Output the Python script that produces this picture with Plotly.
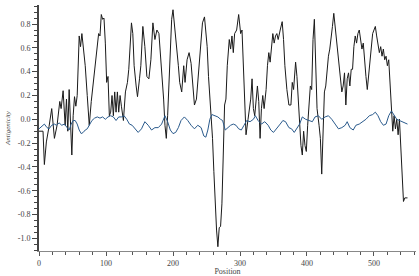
import plotly.graph_objects as go

# Antigenicity profile (black)
ant_pos = [0, 6, 8, 11, 15, 19, 23, 27, 31, 33, 36, 39, 41, 43, 45, 47, 49, 51, 53, 55, 57, 60, 62, 64, 66, 69, 72, 75, 78, 81, 84, 87, 89, 91, 93, 95, 97, 99, 101, 103, 105, 107, 109, 111, 113, 115, 117, 119, 121, 123, 126, 129, 132, 134, 136, 138, 140, 142, 145, 147, 150, 152, 155, 158, 161, 164, 167, 170, 173, 176, 179, 182, 184, 186, 188, 190, 192, 194, 196, 198, 200, 202, 204, 206, 208, 210, 213, 216, 218, 221, 224, 227, 229, 232, 235, 238, 241, 244, 247, 249, 251, 253, 256, 259, 261, 263, 265, 267, 269, 271, 273, 275, 277, 279, 281, 284, 286, 288, 290, 292, 295, 298, 301, 303, 305, 307, 309, 312, 314, 316, 318, 320, 322, 324, 326, 328, 330, 332, 334, 336, 339, 341, 343, 345, 347, 349, 351, 353, 355, 357, 360, 363, 365, 367, 370, 373, 376, 378, 380, 383, 385, 387, 389, 391, 393, 395, 397, 399, 401, 403, 405, 407, 409, 411, 413, 415, 418, 420, 422, 424, 426, 428, 430, 432, 434, 436, 438, 440, 442, 444, 446, 448, 450, 452, 454, 456, 458, 460, 462, 464, 466, 468, 470, 472, 474, 476, 478, 480, 482, 484, 486, 488, 490, 492, 494, 496, 498, 500, 502, 504, 506, 508, 510, 512, 514, 516, 518, 520, 522, 524, 526, 528, 530, 532, 534, 536, 538, 540, 542, 544, 546, 550]
ant_val = [-0.10, -0.10, -0.38, -0.19, -0.06, 0.09, -0.16, -0.05, 0.15, 0.09, 0.24, -0.05, 0.17, -0.10, 0.25, -0.05, -0.30, 0.03, 0.19, 0.11, 0.20, 0.70, 0.61, 0.72, 0.61, 0.45, 0.20, -0.05, 0.15, 0.31, 0.50, 0.67, 0.72, 0.70, 0.88, 0.84, 0.85, 0.64, 0.31, 0.36, 0.03, 0.06, 0.20, 0.03, 0.23, 0.06, 0.23, 0.06, 0.20, 0.11, -0.01, 0.23, 0.31, 0.42, 0.59, 0.81, 0.72, 0.45, 0.28, 0.19, 0.34, 0.45, 0.78, 0.61, 0.36, 0.34, 0.50, 0.81, 0.67, 0.75, 0.72, 0.50, 0.39, 0.17, -0.05, -0.16, 0.03, 0.36, 0.67, 0.84, 0.92, 0.81, 0.72, 0.56, 0.45, 0.31, 0.23, 0.45, 0.31, 0.50, 0.56, 0.47, 0.34, 0.12, 0.17, 0.36, 0.61, 0.81, 0.86, 0.75, 0.61, 0.36, 0.12, -0.16, -0.44, -0.71, -0.93, -1.07, -0.91, -0.90, -0.71, -0.30, 0.12, 0.17, 0.45, 0.67, 0.59, 0.70, 0.56, 0.72, 0.75, 0.88, 0.72, 0.75, 0.45, 0.17, -0.13, 0.00, 0.09, 0.17, 0.34, 0.09, 0.03, 0.17, 0.28, 0.15, -0.16, 0.09, 0.20, 0.09, 0.25, 0.45, 0.56, 0.48, 0.64, 0.72, 0.64, 0.70, 0.72, 0.67, 0.75, 0.82, 0.67, 0.45, 0.25, 0.12, 0.12, 0.31, 0.25, 0.48, 0.36, 0.17, -0.05, -0.22, -0.30, -0.10, -0.22, -0.27, -0.05, 0.15, 0.28, 0.25, 0.67, 0.84, 0.45, 0.09, -0.05, -0.16, -0.46, -0.10, 0.23, 0.28, 0.45, 0.53, 0.59, 0.67, 0.78, 0.89, 0.78, 0.67, 0.50, 0.39, 0.31, 0.23, 0.28, 0.39, 0.12, 0.34, 0.39, 0.28, 0.42, 0.42, 0.61, 0.70, 0.64, 0.72, 0.75, 0.64, 0.59, 0.64, 0.45, 0.36, 0.25, 0.36, 0.45, 0.59, 0.72, 0.75, 0.78, 0.70, 0.61, 0.56, 0.61, 0.53, 0.59, 0.50, 0.53, 0.45, 0.50, 0.31, 0.15, -0.10, 0.03, -0.08, 0.00, -0.13, 0.00, -0.22, -0.46, -0.69, -0.66, -0.66]

# Smoothed average (blue)
avg_pos = [0, 5, 8, 12, 15, 19, 23, 26, 30, 34, 38, 42, 45, 48, 51, 54, 57, 60, 63, 66, 69, 72, 75, 79, 83, 87, 91, 95, 99, 103, 107, 111, 115, 119, 123, 127, 131, 135, 139, 143, 148, 153, 158, 163, 168, 173, 178, 183, 188, 192, 196, 200, 204, 208, 212, 217, 222, 227, 232, 237, 242, 246, 249, 252, 255, 258, 262, 267, 271, 274, 278, 282, 286, 290, 294, 298, 302, 306, 310, 315, 320, 323, 327, 332, 337, 342, 346, 350, 355, 360, 364, 368, 373, 377, 381, 385, 389, 393, 398, 403, 408, 412, 417, 422, 427, 432, 437, 442, 447, 452, 457, 460, 464, 469, 473, 478, 483, 488, 493, 498, 502, 506, 510, 514, 518, 522, 526, 530, 534, 538, 542, 550]
avg_val = [-0.08, -0.05, -0.04, -0.07, -0.08, -0.05, -0.04, -0.05, -0.03, -0.05, -0.04, -0.07, -0.09, -0.04, -0.01, -0.01, -0.04, -0.09, -0.12, -0.11, -0.09, -0.08, -0.05, -0.01, 0.01, 0.02, 0.01, 0.02, 0.00, 0.02, 0.03, 0.02, -0.01, 0.02, 0.02, 0.03, 0.00, -0.04, -0.05, -0.08, -0.11, -0.08, -0.02, -0.05, -0.09, -0.07, -0.07, -0.04, 0.03, -0.02, -0.09, -0.12, -0.11, -0.07, -0.01, 0.02, -0.01, -0.05, -0.08, -0.05, -0.07, -0.14, -0.15, -0.09, 0.00, 0.04, 0.03, 0.02, 0.00, -0.01, -0.09, -0.07, -0.05, -0.04, -0.05, -0.08, -0.09, -0.05, -0.01, -0.02, 0.00, 0.03, -0.01, -0.04, -0.02, -0.05, -0.09, -0.11, -0.07, -0.04, -0.01, -0.02, -0.07, -0.08, -0.11, -0.08, -0.04, 0.02, 0.00, -0.01, -0.02, 0.02, 0.03, 0.00, 0.02, 0.03, 0.00, -0.04, -0.08, -0.07, -0.05, -0.02, -0.07, -0.09, -0.05, -0.04, -0.02, 0.00, 0.03, 0.04, 0.06, 0.03, -0.02, -0.05, -0.04, 0.03, 0.07, 0.04, 0.00, -0.01, -0.02, -0.04]

x_ticks = [0, 100, 200, 300, 400, 500]
y_ticks = [-1.0, -0.8, -0.6, -0.4, -0.2, 0.0, 0.2, 0.4, 0.6, 0.8]
y_labels = ["-1.0", "-0.8", "-0.6", "-0.4", "-0.2", "0.0", "0.2", "0.4", "0.6", "0.8"]

fig = go.Figure()
fig.add_trace(go.Scatter(x=ant_pos, y=ant_val, mode="lines",
                         line=dict(color="#1a1a1a", width=1.0), showlegend=False))
fig.add_trace(go.Scatter(x=avg_pos, y=avg_val, mode="lines",
                         line=dict(color="#2a5a8c", width=1.0), showlegend=False))

font = dict(family="Liberation Serif", size=8, color="#444444")
fig.update_layout(
    width=419, height=276,
    margin=dict(l=39, r=3, t=5, b=22),
    paper_bgcolor="white", plot_bgcolor="white",
    font=font,
    xaxis=dict(range=[0, 562.7], showgrid=False, zeroline=False,
               showline=True, linecolor="#888888", linewidth=1,
               tickmode="array", tickvals=x_ticks, ticktext=[str(v) for v in x_ticks],
               ticks="outside", ticklen=4, tickcolor="#555555", tickwidth=1,
               minor=dict(dtick=20, ticks="outside", ticklen=3, tickcolor="#555555", tickwidth=1),
               title=dict(text="Position", font=dict(family="Liberation Serif", size=8, color="#444444"), standoff=0),
               tickfont=font),
    yaxis=dict(range=[-1.106, 0.96], showgrid=False, zeroline=False,
               showline=True, linecolor="#444444", linewidth=2,
               tickmode="array", tickvals=y_ticks, ticktext=y_labels,
               ticks="outside", ticklen=5, tickcolor="#444444", tickwidth=1,
               minor=dict(dtick=0.05, tick0=0, ticks="outside", ticklen=3, tickcolor="#444444", tickwidth=1),
               title=dict(text="<i>Antigenicity</i>", font=dict(family="Liberation Serif", size=7, color="#444444"), standoff=6),
               tickfont=font),
)

fig.write_html("out.html")
